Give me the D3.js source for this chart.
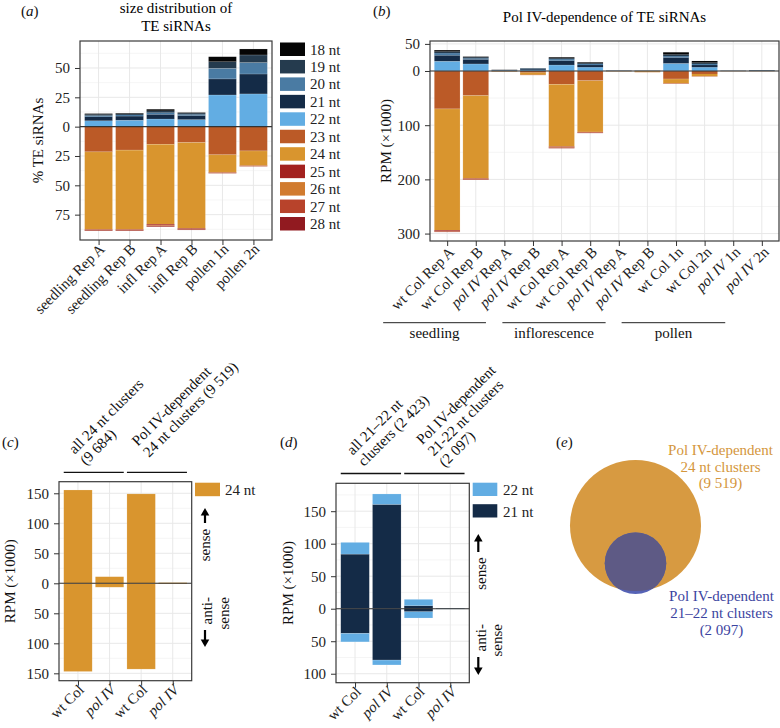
<!DOCTYPE html>
<html><head><meta charset="utf-8">
<script src="https://cdn.jsdelivr.net/npm/d3@7"></script>
<style>body{margin:0;background:#fff}svg{display:block}</style>
</head><body><svg id="chart" width="780" height="728"></svg>
<script>
// ---------------- DATA ----------------
const sizeLabels = ["18 nt","19 nt","20 nt","21 nt","22 nt","23 nt","24 nt","25 nt","26 nt","27 nt","28 nt"];
const sizeColors = ["#050505","#253b4e","#4a7ba3","#142b47","#62ade3","#bb5a27","#d9952e","#a3211f","#d17b2f","#b8432b","#911a20"];

// (a) % TE siRNAs
const aCategories = ["seedling Rep A","seedling Rep B","infl Rep A","infl Rep B","pollen 1n","pollen 2n"];
const a18 = [0.6,0.5,1.3,0.5,4.3,5.1];
const a19 = [1.0,1.0,1.5,1.0,5.6,6.5];
const a20 = [1.0,1.0,1.5,1.0,9.0,9.7];
const a21 = [3.5,3.5,4.0,3.5,13.7,17.0];
const a22 = [5.0,5.5,6.5,6.0,27.0,27.9];
const a23 = [21.5,20.0,15.0,13.6,24.0,20.7];
const a24 = [66.0,67.5,68.2,73.0,14.8,12.5];
const a25 = [0.4,0.4,0.8,0.5,0.3,0.2];
const a26 = [0.3,0.3,0.4,0.3,0.3,0.2];
const a27 = [0.4,0.4,0.6,0.4,0.3,0.2];
const a28 = [0.3,0.3,0.4,0.3,0.1,0.1];
const aTicks = [50,25,0,-25,-50,-75];

// (b) RPM (x1000)
const bCategories = ["wt Col Rep A","wt Col Rep B","pol IV Rep A","pol IV Rep B","wt Col Rep A","wt Col Rep B","pol IV Rep A","pol IV Rep B","wt Col 1n","wt Col 2n","pol IV 1n","pol IV 2n"];
const bGroups = ["seedling","inflorescence","pollen"];
const b18 = [2.5,1.0,0.3,0.3,1.7,1.5,0.1,0.1,4.0,3.0,0.1,0.2];
const b19 = [3.0,2.0,0.3,0.5,1.6,1.5,0.1,0.1,3.0,2.5,0.1,0.2];
const b20 = [4.0,2.0,0.4,1.0,3.0,2.0,0.1,0.1,2.5,2.0,0.1,0.3];
const b21 = [11.0,8.5,0.5,1.5,8.0,4.0,0.2,0.1,11.0,4.0,0.1,0.4];
const b22 = [18.0,13.0,0.8,2.0,11.0,7.0,0.3,0.2,14.0,7.0,0.2,0.6];
const b23 = [70.0,45.5,0.5,3.0,24.6,18.0,0.3,0.6,14.8,5.5,0.2,0.2];
const b24 = [224,153,0.6,4.0,115,94.5,0.4,1.6,8.0,4.3,0.2,0.2];
const b25 = [1.5,1.2,0,0.2,1.5,1.0,0,0.05,0.4,0.2,0,0];
const b26 = [0.5,0.4,0,0.3,0.6,0.4,0,0.05,0.2,0.1,0,0];
const b27 = [0.8,0.6,0,0.1,0.7,0.5,0,0.05,0.2,0.1,0,0];
const b28 = [0.4,0.3,0,0,0.3,0.2,0,0,0.1,0.05,0,0];
const bTicks = [50,0,-100,-200,-300];

// (c) 24 nt clusters
const cCategories = ["wt Col","pol IV","wt Col","pol IV"];
const cHeaders = [["all 24 nt clusters","(9 684)"],["Pol IV-dependent","24 nt clusters (9 519)"]];
const c24Sense = [155.5,11.0,149.0,1.0];
const c24Anti  = [147.0,6.5,143.0,1.0];
const cTicks = [150,100,50,0,-50,-100,-150];

// (d) 21-22 nt clusters
const dCategories = ["wt Col","pol IV","wt Col","pol IV"];
const dHeaders = [["all 21–22 nt","clusters (2 423)"],["Pol IV-dependent","21-22 nt clusters","(2 097)"]];
const d21Sense = [84.0,160.5,4.6,0.3];
const d22Sense = [18.0,16.0,9.8,0.2];
const d21Anti  = [38.0,79.0,4.6,0.3];
const d22Anti  = [13.0,7.5,9.7,0.2];
const dTicks = [150,100,50,0,-50,-100];

// (e) Venn
const vennLabels = [["Pol IV-dependent","24 nt clusters","(9 519)"],["Pol IV-dependent","21–22 nt clusters","(2 097)"]];
const vennCounts = [9519, 2097];

// ---------------- DRAWING ----------------
const FONT = '"Liberation Serif","Times New Roman","DejaVu Serif",serif';
const svg = d3.select("#chart");
svg.append("rect").attr("width",780).attr("height",728).attr("fill","#fff");
svg.style("font-family",FONT);

function label(x,y,letter){
  const t = svg.append("text").attr("x",x).attr("y",y).attr("font-size",15).attr("fill","#111");
  t.append("tspan").text("(");
  t.append("tspan").attr("font-style","italic").text(letter);
  t.append("tspan").text(")");
}

function catText(sel, s){
  if (s.startsWith("pol IV")) {
    sel.append("tspan").attr("font-style","italic").text("pol IV");
    const rest = s.slice(6);
    if (rest) sel.append("tspan").text(rest);
  } else sel.text(s);
}

function drawPanel(cfg){
  const g = svg.append("g");
  const n = cfg.cats.length;
  const x = d3.scalePoint().domain(d3.range(n)).range([cfg.left,cfg.right]).padding(0.6);
  const bw = x.step()*0.9;
  const y = d3.scaleLinear().domain([-cfg.yDown,cfg.yUp]).range([cfg.bottom,cfg.top]);
  const W = cfg.right-cfg.left;
  // grid
  cfg.minor.forEach(v=>g.append("line").attr("x1",cfg.left).attr("x2",cfg.right)
    .attr("y1",y(v)).attr("y2",y(v)).attr("stroke","#f0f0f0").attr("stroke-width",0.7));
  cfg.ticks.forEach(v=>g.append("line").attr("x1",cfg.left).attr("x2",cfg.right)
    .attr("y1",y(v)).attr("y2",y(v)).attr("stroke","#e8e8e8").attr("stroke-width",1));
  d3.range(n).forEach(i=>g.append("line").attr("x1",x(i)).attr("x2",x(i))
    .attr("y1",cfg.top).attr("y2",cfg.bottom).attr("stroke","#e8e8e8").attr("stroke-width",1));
  // stacked bars
  const rows = d3.range(n).map(i=>{
    const r = {};
    cfg.up.forEach((a,k)=>r["u"+k]=a[i]);
    cfg.down.forEach((a,k)=>r["d"+k]=-a[i]);
    return r;
  });
  const keys = [...cfg.up.map((_,k)=>"u"+k), ...cfg.down.map((_,k)=>"d"+k)];
  const colors = [...cfg.upColors, ...cfg.downColors];
  const series = d3.stack().keys(keys).offset(d3.stackOffsetDiverging)(rows);
  series.forEach((s,k)=>{
    g.selectAll(null).data(s).join("rect")
      .attr("x",(d,i)=>x(i)-bw/2).attr("width",bw)
      .attr("y",d=>y(Math.max(d[0],d[1])))
      .attr("height",d=>Math.abs(y(d[0])-y(d[1])))
      .attr("fill",colors[k])
      .attr("stroke",d=>Math.abs(y(d[0])-y(d[1]))>3?"#fff":"none")
      .attr("stroke-opacity",0.3).attr("stroke-width",0.5);
  });
  // zero line
  g.append("line").attr("x1",cfg.left).attr("x2",cfg.right).attr("y1",y(0)).attr("y2",y(0))
    .attr("stroke","#333").attr("stroke-width",1.1);
  // border
  g.append("rect").attr("x",cfg.left).attr("y",cfg.top).attr("width",W).attr("height",cfg.bottom-cfg.top)
    .attr("fill","none").attr("stroke","#3a3a3a").attr("stroke-width",1.2);
  // y axis
  const ya = g.append("g").attr("transform",`translate(${cfg.left},0)`)
    .call(d3.axisLeft(y).tickValues(cfg.ticks).tickFormat(d=>Math.abs(d)).tickSize(5).tickPadding(5));
  ya.select(".domain").remove();
  ya.selectAll("line").attr("stroke","#333");
  ya.selectAll("text").attr("font-family",FONT).attr("font-size",15).attr("fill","#222");
  ya.attr("font-family",FONT);
  // x ticks
  const xa = g.append("g").attr("transform",`translate(0,${cfg.bottom})`)
    .call(d3.axisBottom(x).tickSize(5).tickFormat(""));
  xa.select(".domain").remove();
  xa.selectAll("line").attr("stroke","#333");
  // x labels
  d3.range(n).forEach(i=>{
    const t = g.append("text")
      .attr("transform",`translate(${x(i)+cfg.lx},${cfg.bottom+cfg.ly}) rotate(-45)`)
      .attr("text-anchor","end").attr("font-size",15).attr("fill","#222");
    catText(t, cfg.cats[i]);
  });
  // y title
  g.append("text").attr("transform",`translate(${cfg.titleX},${(cfg.top+cfg.bottom)/2}) rotate(-90)`)
    .attr("text-anchor","middle").attr("font-size",15).attr("fill","#111").text(cfg.yTitle);
  return {g,x,y,bw};
}

// ---- (a)
label(21,15.5,"a");
svg.append("text").attr("x",176).attr("y",12.5).attr("text-anchor","middle").attr("font-size",15).text("size distribution of");
svg.append("text").attr("x",176).attr("y",30.5).attr("text-anchor","middle").attr("font-size",15).text("TE siRNAs");
drawPanel({cats:aCategories,left:80,right:272,top:41,bottom:240,yUp:73,yDown:96.6,
  ticks:aTicks,minor:d3.range(-87.5,73,25),
  up:[a22,a21,a20,a19,a18],upColors:[sizeColors[4],sizeColors[3],sizeColors[2],sizeColors[1],sizeColors[0]],
  down:[a23,a24,a25,a26,a27,a28],downColors:sizeColors.slice(5),
  lx:7,ly:10,titleX:43,yTitle:"% TE siRNAs"});
// legend (a)
sizeLabels.forEach((s,i)=>{
  const yy = 42.5 + i*17.45;
  svg.append("rect").attr("x",280).attr("y",yy).attr("width",25).attr("height",13.5).attr("fill",sizeColors[i]);
  svg.append("text").attr("x",310).attr("y",yy+12).attr("font-size",15).attr("fill","#222").text(s);
});

// ---- (b)
label(373,16,"b");
svg.append("text").attr("x",604.5).attr("y",22.3).attr("text-anchor","middle").attr("font-size",15).text("Pol IV-dependence of TE siRNAs");
const pb = drawPanel({cats:bCategories,left:430,right:779,top:41,bottom:241,yUp:55.35,yDown:313.7,
  ticks:bTicks,minor:[-50,-150,-250],
  up:[b22,b21,b20,b19,b18],upColors:[sizeColors[4],sizeColors[3],sizeColors[2],sizeColors[1],sizeColors[0]],
  down:[b23,b24,b25,b26,b27,b28],downColors:sizeColors.slice(5),
  lx:8,ly:12,titleX:391,yTitle:"RPM (×1000)"});
// group annotations (b)
bGroups.forEach((s,k)=>{
  const first = k*4, last = k*4+3;
  const x1 = pb.x(first)-64+4.8*k, x2 = pb.x(last)-47+5.2*k;
  svg.append("line").attr("x1",x1).attr("x2",x2).attr("y1",322.7).attr("y2",322.7).attr("stroke","#222").attr("stroke-width",1);
  svg.append("text").attr("x",(x1+x2)/2).attr("y",338).attr("text-anchor","middle").attr("font-size",15).attr("fill","#111").text(s);
});

// header helper for (c)/(d)
function header(lines,x,y){
  const t = svg.append("text").attr("transform",`translate(${x},${y}) rotate(-45)`).attr("font-size",15).attr("fill","#111");
  lines.forEach((s,i)=>t.append("tspan").attr("x",0).attr("y",-(lines.length-1-i)*16).text(s));
}
function arrow(x,y1,y2){ // from y1 to tip y2
  const dir = Math.sign(y2-y1);
  svg.append("line").attr("x1",x).attr("x2",x).attr("y1",y1).attr("y2",y2-dir*5).attr("stroke","#000").attr("stroke-width",2.2);
  svg.append("path").attr("d",`M${x-4.3},${y2-dir*7.5}L${x+4.3},${y2-dir*7.5}L${x},${y2}Z`).attr("fill","#000");
}
function rotText(lines,x,y,anchor,lh){
  const t = svg.append("text").attr("transform",`translate(${x},${y}) rotate(-90)`).attr("text-anchor",anchor).attr("font-size",15).attr("fill","#111");
  lines.forEach((s,i)=>t.append("tspan").attr("x",0).attr("y",i*lh).text(s));
}

// ---- (c)
label(2,447,"c");
const pc = drawPanel({cats:cCategories,left:59,right:191.7,top:481.7,bottom:680.7,yUp:169.3,yDown:162.3,
  ticks:cTicks,minor:[-125,-75,-25,25,75,125],
  up:[c24Sense],upColors:[sizeColors[6]],down:[c24Anti],downColors:[sizeColors[6]],
  lx:7,ly:10,titleX:15,yTitle:"RPM (×1000)"});
[[0,1],[2,3]].forEach(([a,b])=>{
  svg.append("line").attr("x1",pc.x(a)-pc.bw/2).attr("x2",pc.x(b)+pc.bw/2).attr("y1",472.3).attr("y2",472.3).attr("stroke","#111").attr("stroke-width",1.3);
});
header(cHeaders[0],86,466);
header(cHeaders[1],149,458);
svg.append("rect").attr("x",195).attr("y",482.7).attr("width",25).attr("height",13.5).attr("fill",sizeColors[6]);
svg.append("text").attr("x",225).attr("y",495).attr("font-size",15).attr("fill","#222").text("24 nt");
arrow(205,523,508);
rotText(["sense"],209.5,545,"middle",17);
rotText(["anti-","sense"],211.5,597,"end",17.5);
arrow(205,630,647);

// ---- (d)
label(280,447,"d");
const pd = drawPanel({cats:dCategories,left:336,right:469.3,top:483.3,bottom:682.7,yUp:192.9,yDown:113.8,
  ticks:dTicks,minor:[-75,-25,25,75,125,175],
  up:[d21Sense,d22Sense],upColors:[sizeColors[3],sizeColors[4]],
  down:[d21Anti,d22Anti],downColors:[sizeColors[3],sizeColors[4]],
  lx:7,ly:10,titleX:293,yTitle:"RPM (×1000)"});
[[0,1],[2,3]].forEach(([a,b])=>{
  svg.append("line").attr("x1",pd.x(a)-pd.bw/2).attr("x2",pd.x(b)+pd.bw/2).attr("y1",473.5).attr("y2",473.5).attr("stroke","#111").attr("stroke-width",1.3);
});
header(dHeaders[0],364,467);
header(dHeaders[1],445,468);
[["22 nt",4],["21 nt",3]].forEach(([s,ci],i)=>{
  const yy = 482.7 + i*21.5;
  svg.append("rect").attr("x",472.7).attr("y",yy).attr("width",24.6).attr("height",13.3).attr("fill",sizeColors[ci]);
  svg.append("text").attr("x",503).attr("y",yy+12.3).attr("font-size",15).attr("fill","#222").text(s);
});
arrow(478.3,552,534);
rotText(["sense"],486,573.5,"middle",16);
rotText(["anti-","sense"],486,624,"end",16);
arrow(478.3,657,675);

// ---- (e)
label(556,447,"e");
const rScale = d3.scaleSqrt().domain([0,vennCounts[0]]).range([0,65.5]);
const cx = 635.5, cyBig = 525.5;
const rBig = rScale(vennCounts[0]), rSmall = rScale(vennCounts[1]);
const cySmall = cyBig + rBig - rSmall + 3;
const defs = svg.append("defs");
defs.append("clipPath").attr("id","bigclip").append("circle").attr("cx",cx).attr("cy",cyBig).attr("r",rBig);
svg.append("circle").attr("cx",cx).attr("cy",cyBig).attr("r",rBig).attr("fill","#d79a41");
svg.append("circle").attr("cx",cx).attr("cy",cySmall).attr("r",rSmall).attr("fill","#5663b6");
svg.append("circle").attr("cx",cx).attr("cy",cySmall).attr("r",rSmall).attr("fill","#5e5a85").attr("clip-path","url(#bigclip)");
vennLabels[0].forEach((s,i)=>svg.append("text").attr("x",720.5).attr("y",455+i*16.5).attr("text-anchor","middle")
  .attr("font-size",15).attr("fill","#d4963c").text(s));
vennLabels[1].forEach((s,i)=>svg.append("text").attr("x",721.5).attr("y",601+i*17).attr("text-anchor","middle")
  .attr("font-size",15).attr("fill","#3c44a0").text(s));
</script></body></html>
